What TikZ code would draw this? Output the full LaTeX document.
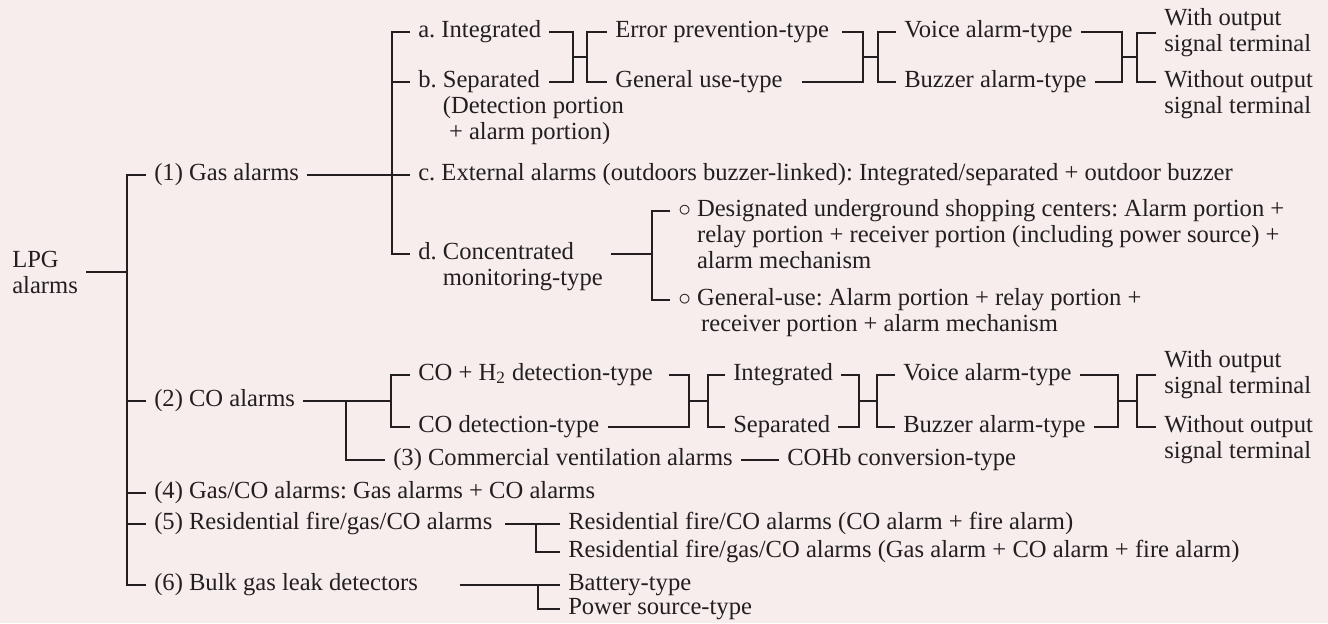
\documentclass[tikz,border=0pt]{standalone}
\usepackage{fontspec}
\setmainfont{Liberation Serif}
\usepackage{xcolor}
\usepackage{tikz}
\definecolor{chartpink}{RGB}{246,237,236}
\definecolor{chartink}{RGB}{35,31,32}
\newcommand{\toplines}[1]{\begin{tabular}[t]{@{}l@{}}#1\end{tabular}}
\newcommand{\ringmark}{$\circ$\ }
\frenchspacing
\tikzset{
  item/.style={
    anchor=west,
    inner xsep=4.5pt,
    inner ysep=0pt,
    text height=9.5pt,
    text depth=3.8pt,
    text=chartink,
    font=\fontsize{14}{14.8}\selectfont
  },
  pair/.style={
    anchor=west,
    align=left,
    inner xsep=4.5pt,
    inner ysep=0pt,
    text=chartink,
    font=\fontsize{14}{14.8}\selectfont
  },
  branch/.style={
    draw=chartink,
    line width=1pt
  }
}
\begin{document}
\begin{tikzpicture}[x=0.02cm, y=-0.02cm]
\useasboundingbox (0,0) rectangle (1328,623);
\fill[chartpink] (0,0) rectangle (1328,623);

\node[pair] (lpg) at (4,272) {LPG\\alarms};
\node[item] (gas) at (146,175) {(1) Gas alarms};
\node[item] (co) at (146,401) {(2) CO alarms};
\node[item] (gasco) at (146,493) {(4) Gas/CO alarms: Gas alarms + CO alarms};
\node[item] (resid) at (146,524) {(5) Residential fire/gas/CO alarms};
\node[item] (bulk) at (146,585) {(6) Bulk gas leak detectors};

\node[item] (inta) at (410,32) {a. Integrated};
\node[item] (sepb) at (410,82) {\toplines{b. Separated\\\phantom{b. }(Detection portion\\\phantom{b. }\ + alarm portion)}};
\node[item] (extc) at (410,175) {c. External alarms (outdoors buzzer-linked): Integrated/separated + outdoor buzzer};
\node[item] (concd) at (410,254) {\toplines{d. Concentrated\\\phantom{d. }monitoring-type}};
\node[item] (errp) at (607,32) {Error prevention-type};
\node[item] (genuse) at (607,82) {General use-type};
\node[item] (voicea) at (896,32) {Voice alarm-type};
\node[item] (buzza) at (896,82) {Buzzer alarm-type};
\node[pair] (witha) at (1156,33) {With output\\signal terminal};
\node[item] (withouta) at (1156,82) {\toplines{Without output\\signal terminal}};
\node[item] (desig) at (670,211) {\toplines{\ringmark Designated underground shopping centers: Alarm portion +\\\phantom{\ringmark}relay portion + receiver portion (including power source) +\\\phantom{\ringmark}alarm mechanism}};
\node[item] (genuseb) at (670,300) {\toplines{\ringmark General-use: Alarm portion + relay portion +\\\phantom{\ringmark}\,receiver portion + alarm mechanism}};

\node[item] (cohtwo) at (410,375) {CO + H\textsubscript{2} detection-type};
\node[item] (codet) at (410,427) {CO detection-type};
\node[item] (comvent) at (385,460) {(3) Commercial ventilation alarms};
\node[item] (cohb) at (779,460) {COHb conversion-type};
\node[item] (integb) at (725,375) {Integrated};
\node[item] (sepc) at (725,427) {Separated};
\node[item] (voiceb) at (895,375) {Voice alarm-type};
\node[item] (buzzb) at (895,427) {Buzzer alarm-type};
\node[pair] (withb) at (1156,375) {With output\\signal terminal};
\node[item] (withoutb) at (1156,427) {\toplines{Without output\\signal terminal}};

\node[item] (resfco) at (560,524) {Residential fire/CO alarms (CO alarm + fire alarm)};
\node[item] (resfgco) at (560,552) {Residential fire/gas/CO alarms (Gas alarm + CO alarm + fire alarm)};
\node[item] (battery) at (560,585) {Battery-type};
\node[item] (power) at (560,609) {Power source-type};

\coordinate (lpgj) at (127,272);
\draw[branch] (lpg.east) -- (lpgj);
\draw[branch] (gas.west) -| (lpgj) |- (bulk.west);
\draw[branch] (co.west) -- (co.west -| lpgj);
\draw[branch] (gasco.west) -- (gasco.west -| lpgj);
\draw[branch] (resid.west) -- (resid.west -| lpgj);

\coordinate (gasj) at (392,175);
\draw[branch] (gas.east) -- (extc.west);
\draw[branch] (inta.west) -| (gasj) |- (concd.west);
\draw[branch] (sepb.west) -- (sepb.west -| gasj);

\coordinate (abj) at (573,57);
\coordinate (abk) at (587,57);
\draw[branch] (inta.east) -| (abj) |- (sepb.west -| inta.east);
\draw[branch] (abj) -- (abk);
\draw[branch] (errp.west) -| (abk) |- (genuse.west);

\coordinate (epj) at (863,57);
\coordinate (epk) at (878,57);
\draw[branch] ([xshift=2.8pt]errp.east) -| (epj) |- ([xshift=6.2pt]genuse.east);
\draw[branch] (epj) -- (epk);
\draw[branch] (voicea.west) -| (epk) |- (buzza.west);

\coordinate (vbj) at (1122,57);
\coordinate (vbk) at (1137,57);
\draw[branch] (voicea.east) -| (vbj) |- (buzza.east);
\draw[branch] (vbj) -- (vbk);
\draw[branch] (witha.west) -| (vbk) |- (withouta.west);

\coordinate (cdj) at (652,254);
\draw[branch] (concd.east) -- (cdj);
\draw[branch] (desig.west) -| (cdj) |- (genuseb.west);

\coordinate (coj) at (391,401);
\coordinate (cvj) at (346,401);
\draw[branch] (co.east) -- (coj);
\draw[branch] (cvj) |- (comvent.west);
\draw[branch] (cohtwo.west) -| (coj) |- (codet.west);
\draw[branch] (comvent.east) -- (cohb.west);

\coordinate (hdj) at (689,401);
\coordinate (hdk) at (708,401);
\draw[branch] ([xshift=4.5pt]cohtwo.east) -| (hdj) |- (codet.east);
\draw[branch] (hdj) -- (hdk);
\draw[branch] (integb.west) -| (hdk) |- (sepc.west);

\coordinate (isj) at (859,401);
\coordinate (isk) at (877,401);
\draw[branch] (integb.east) -| (isj) |- (sepc.east);
\draw[branch] (isj) -- (isk);
\draw[branch] (voiceb.west) -| (isk) |- (buzzb.west);

\coordinate (vbjb) at (1118,401);
\coordinate (vbkb) at (1137,401);
\draw[branch] (voiceb.east) -| (vbjb) |- (buzzb.east);
\draw[branch] (vbjb) -- (vbkb);
\draw[branch] (withb.west) -| (vbkb) |- (withoutb.west);

\coordinate (resj) at (536,524);
\draw[branch] ([xshift=2.5pt]resid.east) -- (resfco.west);
\draw[branch] (resj) |- (resfgco.west);

\coordinate (bulkj) at (538,585);
\draw[branch] ([xshift=19pt]bulk.east) -- (battery.west);
\draw[branch] (bulkj) |- (power.west);
\end{tikzpicture}
\end{document}
